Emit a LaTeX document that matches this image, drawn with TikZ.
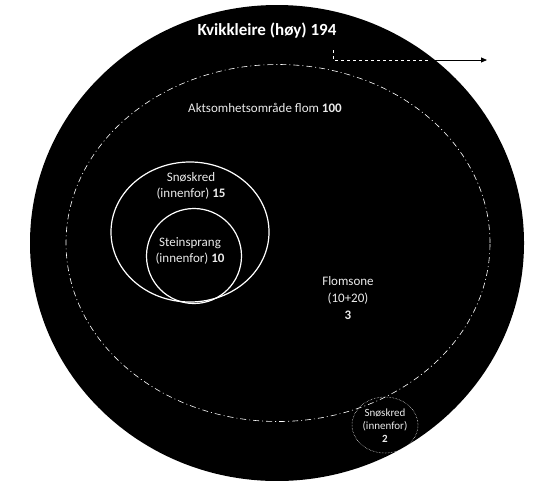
\documentclass[tikz,border=0pt]{standalone}
\usepackage{fontspec}
\setmainfont{Carlito}
\usepackage{tikz}
\usetikzlibrary{arrows.meta, positioning, shapes.geometric}
\definecolor{BK}{RGB}{0,0,0}
\definecolor{WT}{RGB}{255,255,255}

\begin{document}
\begin{tikzpicture}[x=1pt, y=-1pt,
  zone/.style={ellipse, inner sep=0pt},
  lbl/.style={text=WT!92!black, align=center, font=\fontsize{13}{16}\selectfont},
  ring/.style={draw=WT, line width=1.2pt},
  dashring/.style={draw=WT, line width=0.6pt, dash pattern=on 6pt off 3pt on 1pt off 3pt}
]
\useasboundingbox (0,0) rectangle (534,480);
\node[zone, fill=BK, minimum width=494pt, minimum height=476pt] (kvikk) at (277,243) {};
\node[zone, dashring, minimum width=424pt, minimum height=357pt] (flom) at (278,243) {};
\node[zone, ring, minimum width=158pt, minimum height=140pt] (snoA) at (190,232) {};
\node[zone, ring, minimum width=95pt, minimum height=95pt] (stein) at (194,256) {};
\node[zone, draw=WT, line width=0.5pt, densely dotted, minimum width=66pt, minimum height=56pt] (snoB) at (385,425) {};

\node[lbl, text=WT, font=\fontsize{17}{19}\selectfont\bfseries] (tKvikk) at (267,31) {Kvikkleire (høy) 194};
\node[lbl] (tFlom) at (265,108) {Aktsomhetsområde flom \textbf{100}};
\node[lbl] (tSnoA) at (191,186) {Snøskred\\(innenfor) \textbf{15}};
\node[lbl] (tStein) at (190,251) {Steinsprang\\(innenfor) \textbf{10}};
\node[lbl, font=\fontsize{13}{17}\selectfont] (tZone) at (348,298) {Flomsone\\(10+20)\\\textbf{3}};
\node[lbl, font=\fontsize{11}{13}\selectfont] (tSnoB) at (385,426) {Snøskred\\(innenfor)\\\textbf{2}};

\coordinate (pStart) at (333,50);
\coordinate (pBend) at (333,60);
\coordinate (pEdge) at (428,60);
\coordinate (pEnd) at (487,60);
\draw[WT, line width=0.5pt, dashed] (pStart) -- (pBend) -- (pEdge);
\draw[BK, line width=0.8pt, -{Triangle[length=6pt, width=5pt]}] (pEdge) -- (pEnd);
\end{tikzpicture}
\end{document}
